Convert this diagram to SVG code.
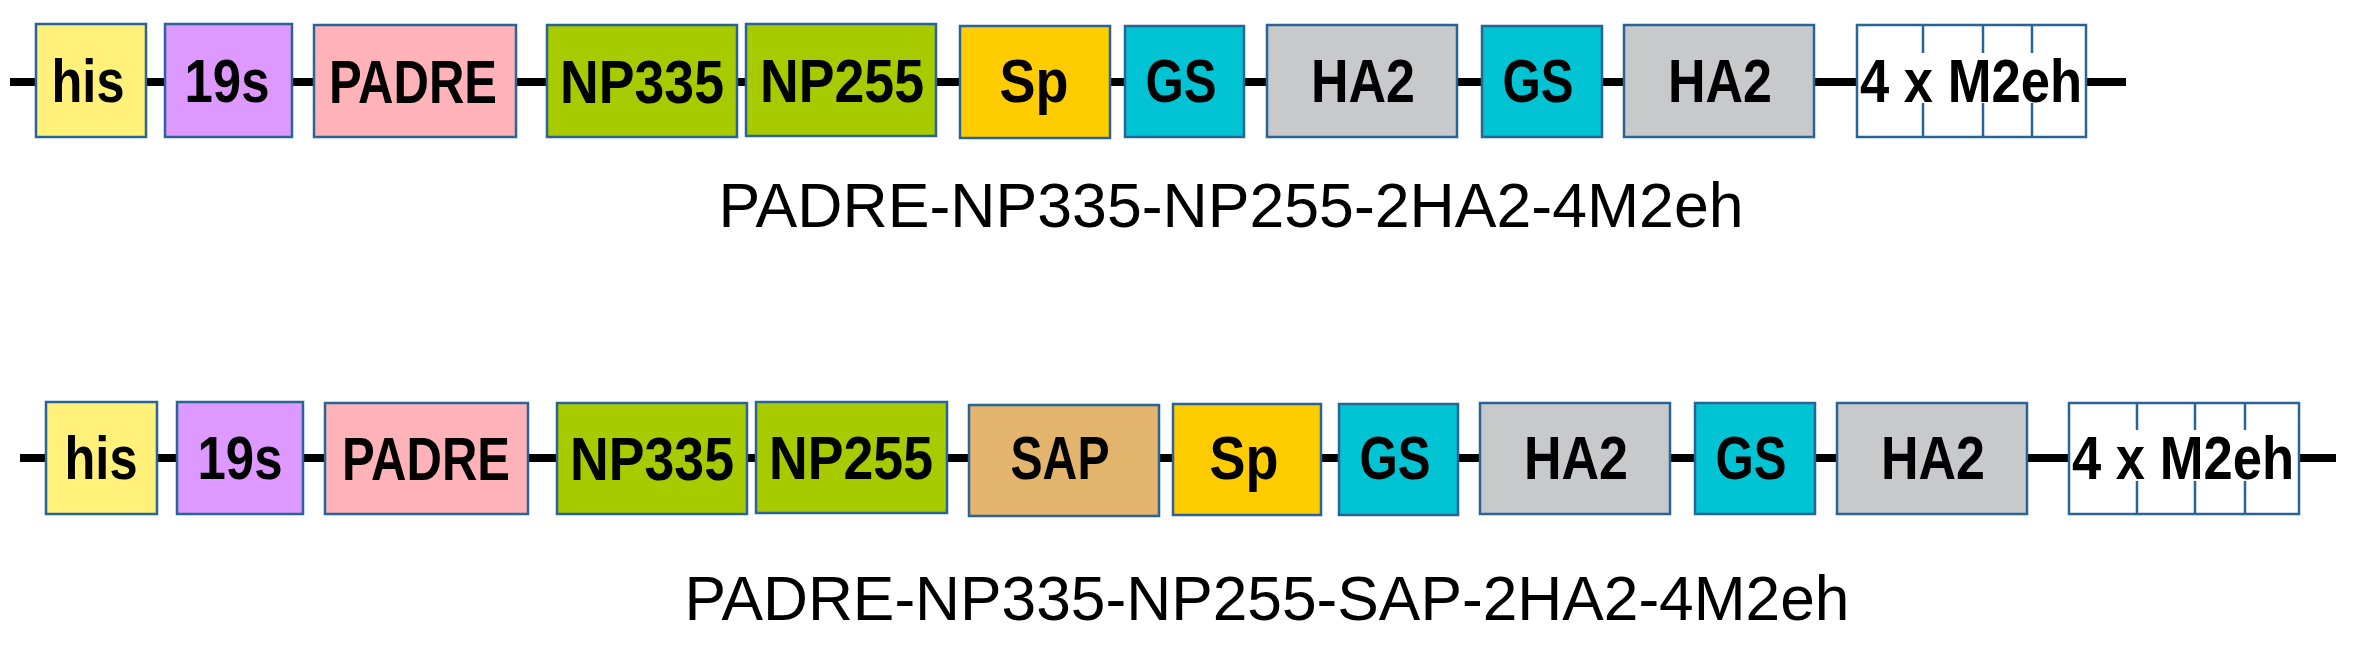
<svg xmlns="http://www.w3.org/2000/svg" width="2360" height="650" viewBox="0 0 2360 650">
<style>
.bx{stroke:#2a6496;stroke-width:2.5}
.lb{font-family:"Liberation Sans Narrow","Liberation Sans",Arial,sans-serif;font-weight:bold;font-size:61px;fill:#000;text-anchor:middle}
.cap{font-family:"Liberation Sans",Arial,sans-serif;font-size:63px;fill:#000;text-anchor:middle}
.bb{stroke:#000;stroke-width:8;fill:none}
.dv{stroke:#2a6496;stroke-width:2.5}
.his{fill:#fff17a}.s19{fill:#dd99ff}.pad{fill:#ffb3b8}.np{fill:#a8cb00}.sp{fill:#ffcc00}.gs{fill:#00c4d4}.ha{fill:#c8c9ca}.sap{fill:#e2b46c}.m2{fill:#ffffff}
</style>
<rect width="2360" height="650" fill="#ffffff"/>
<g id="connectors">
<line class="bb" x1="10" y1="82" x2="2126" y2="82"/>
<line class="bb" x1="20" y1="458" x2="2336" y2="458"/>
</g>
<!-- Row 1 -->
<g id="r1-his"><rect class="bx his" x="36" y="24" width="110" height="113"/><text class="lb" x="88" y="102" textLength="73" lengthAdjust="spacingAndGlyphs">his</text></g>
<g id="r1-19s"><rect class="bx s19" x="165" y="24" width="127" height="113"/><text class="lb" x="227" y="102" textLength="85" lengthAdjust="spacingAndGlyphs">19s</text></g>
<g id="r1-padre"><rect class="bx pad" x="314" y="25" width="202" height="112"/><text class="lb" x="413" y="103" textLength="168" lengthAdjust="spacingAndGlyphs">PADRE</text></g>
<g id="r1-np335"><rect class="bx np" x="547" y="25" width="190" height="112"/><text class="lb" x="642" y="103" textLength="164" lengthAdjust="spacingAndGlyphs">NP335</text></g>
<g id="r1-np255"><rect class="bx np" x="746" y="24" width="190" height="112"/><text class="lb" x="842" y="102" textLength="164" lengthAdjust="spacingAndGlyphs">NP255</text></g>
<g id="r1-sp"><rect class="bx sp" x="960" y="26" width="150" height="112"/><text class="lb" x="1034" y="102" textLength="69" lengthAdjust="spacingAndGlyphs">Sp</text></g>
<g id="r1-gs1"><rect class="bx gs" x="1125" y="26" width="119" height="111"/><text class="lb" x="1181" y="102" textLength="71" lengthAdjust="spacingAndGlyphs">GS</text></g>
<g id="r1-ha2a"><rect class="bx ha" x="1267" y="25" width="190" height="112"/><text class="lb" x="1363" y="102" textLength="104" lengthAdjust="spacingAndGlyphs">HA2</text></g>
<g id="r1-gs2"><rect class="bx gs" x="1482" y="26" width="120" height="111"/><text class="lb" x="1538" y="102" textLength="71" lengthAdjust="spacingAndGlyphs">GS</text></g>
<g id="r1-ha2b"><rect class="bx ha" x="1624" y="25" width="190" height="112"/><text class="lb" x="1720" y="102" textLength="104" lengthAdjust="spacingAndGlyphs">HA2</text></g>
<g id="r1-m2eh"><rect class="bx m2" x="1857" y="25" width="229" height="112"/>
<path class="dv" d="M1923 25V53M1983 25V53M2032 25V53M1923 103V137M1983 103V137M2032 103V137"/>
<text class="lb" x="1971" y="102" textLength="222" lengthAdjust="spacingAndGlyphs">4 x M2eh</text></g>
<g id="caption1"><text class="cap" x="1231" y="227" textLength="1025" lengthAdjust="spacingAndGlyphs">PADRE-NP335-NP255-2HA2-4M2eh</text></g>
<!-- Row 2 -->
<g id="r2-his"><rect class="bx his" x="46" y="402" width="111" height="112"/><text class="lb" x="101" y="479" textLength="73" lengthAdjust="spacingAndGlyphs">his</text></g>
<g id="r2-19s"><rect class="bx s19" x="177" y="402" width="126" height="112"/><text class="lb" x="240" y="479" textLength="85" lengthAdjust="spacingAndGlyphs">19s</text></g>
<g id="r2-padre"><rect class="bx pad" x="325" y="403" width="203" height="111"/><text class="lb" x="426" y="480" textLength="168" lengthAdjust="spacingAndGlyphs">PADRE</text></g>
<g id="r2-np335"><rect class="bx np" x="557" y="403" width="190" height="111"/><text class="lb" x="652" y="480" textLength="164" lengthAdjust="spacingAndGlyphs">NP335</text></g>
<g id="r2-np255"><rect class="bx np" x="756" y="402" width="191" height="111"/><text class="lb" x="851" y="479" textLength="164" lengthAdjust="spacingAndGlyphs">NP255</text></g>
<g id="r2-sap"><rect class="bx sap" x="969" y="405" width="190" height="111"/><text class="lb" x="1060" y="479" textLength="99" lengthAdjust="spacingAndGlyphs">SAP</text></g>
<g id="r2-sp"><rect class="bx sp" x="1173" y="404" width="148" height="111"/><text class="lb" x="1244" y="479" textLength="69" lengthAdjust="spacingAndGlyphs">Sp</text></g>
<g id="r2-gs1"><rect class="bx gs" x="1339" y="404" width="119" height="111"/><text class="lb" x="1395" y="479" textLength="71" lengthAdjust="spacingAndGlyphs">GS</text></g>
<g id="r2-ha2a"><rect class="bx ha" x="1480" y="403" width="190" height="111"/><text class="lb" x="1576" y="479" textLength="104" lengthAdjust="spacingAndGlyphs">HA2</text></g>
<g id="r2-gs2"><rect class="bx gs" x="1695" y="403" width="120" height="111"/><text class="lb" x="1751" y="479" textLength="71" lengthAdjust="spacingAndGlyphs">GS</text></g>
<g id="r2-ha2b"><rect class="bx ha" x="1837" y="403" width="190" height="111"/><text class="lb" x="1933" y="479" textLength="104" lengthAdjust="spacingAndGlyphs">HA2</text></g>
<g id="r2-m2eh"><rect class="bx m2" x="2069" y="403" width="230" height="111"/>
<path class="dv" d="M2137 403V430M2195 403V430M2245 403V430M2137 481V514M2195 481V514M2245 481V514"/>
<text class="lb" x="2183" y="479" textLength="222" lengthAdjust="spacingAndGlyphs">4 x M2eh</text></g>
<g id="caption2"><text class="cap" x="1267" y="620" textLength="1165" lengthAdjust="spacingAndGlyphs">PADRE-NP335-NP255-SAP-2HA2-4M2eh</text></g>
</svg>
